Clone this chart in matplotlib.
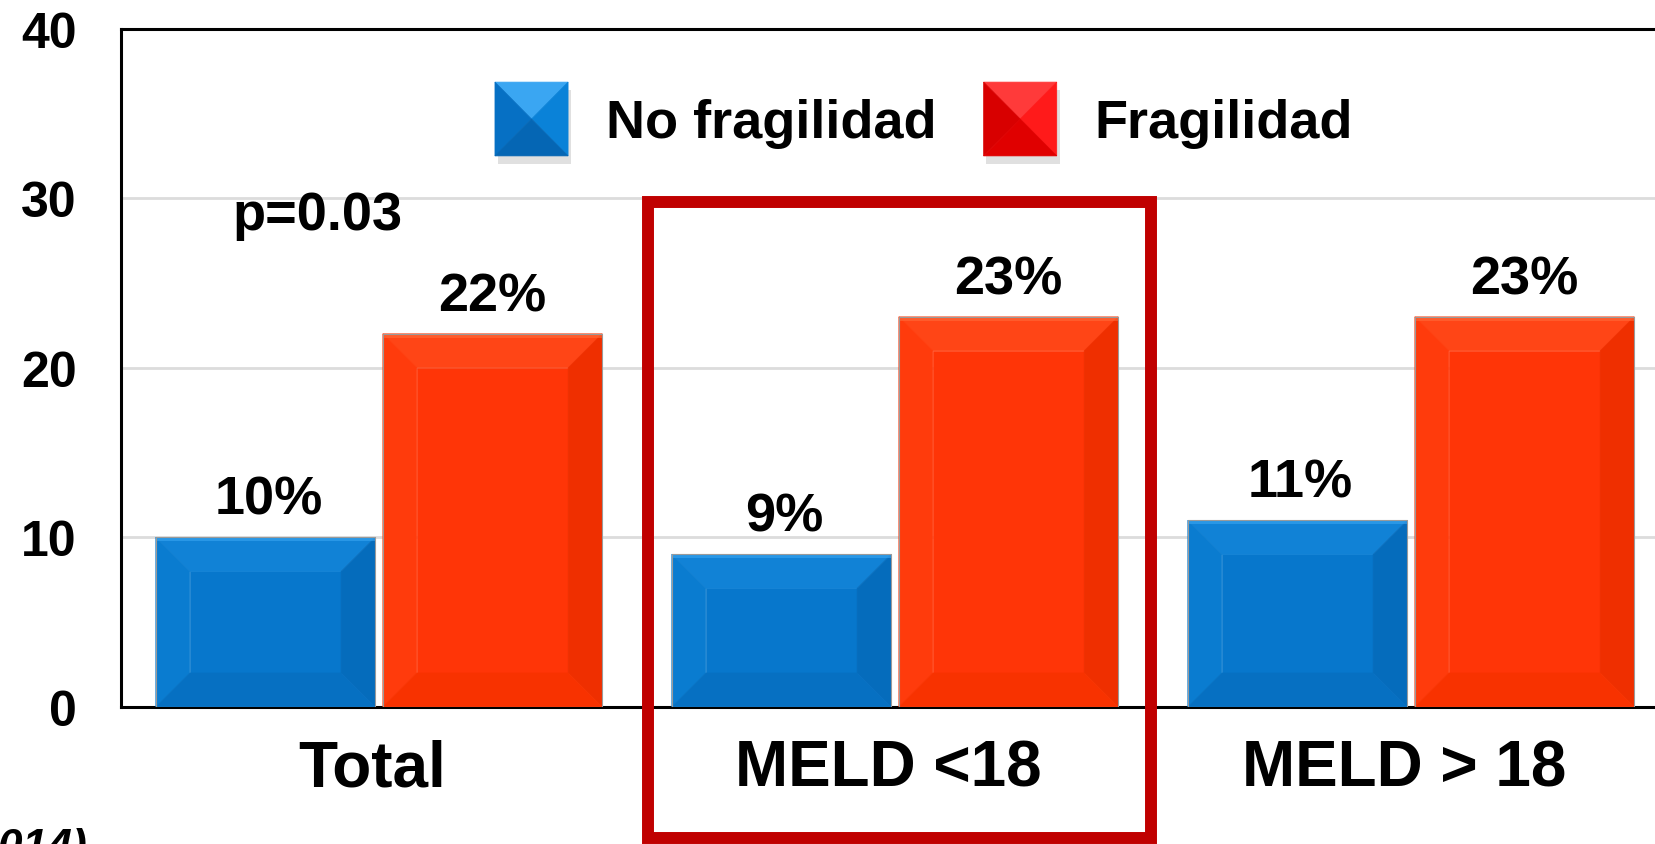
import numpy as np
import matplotlib
matplotlib.use("Agg")
import matplotlib.pyplot as plt
from matplotlib.patches import Polygon, Rectangle
from matplotlib.legend_handler import HandlerBase
from matplotlib.transforms import ScaledTranslation

plt.rcParams['font.family'] = ['Liberation Sans', 'DejaVu Sans']
plt.rcParams['font.weight'] = 'bold'

categories = ['Total', 'MELD <18', 'MELD > 18']
no_fragilidad = [10, 9, 11]
fragilidad = [22, 23, 23]
series_names = ['No fragilidad', 'Fragilidad']
y_ticks = [0, 10, 20, 30, 40]

# face, top, left, right, bottom shades for the bevelled bars, then the top highlight
blue_shades = ['#0777cc', '#1182d6', '#0a7cd0', '#056cbc', '#0670c2', '#3aa6f2']
red_shades = ['#ff3507', '#ff4516', '#ff3b0c', '#ef2f00', '#f83200', '#ff6a3a']
legend_blue = ['#0a78cf', '#3aa6f2', '#0670c4', '#0a82d8', '#0566b4']
legend_red = ['#ff0a0a', '#ff3a3a', '#d80000', '#ff1a1a', '#e00000']


def bevel_polys(x0, y0, w, h, dx, dy):
    x1, y1 = x0 + w, y0 + h
    dx = min(dx, w / 2)
    dy = min(dy, h / 2)
    ix0, ix1, iy0, iy1 = x0 + dx, x1 - dx, y0 + dy, y1 - dy
    face = [(ix0, iy0), (ix1, iy0), (ix1, iy1), (ix0, iy1)]
    top = [(x0, y1), (x1, y1), (ix1, iy1), (ix0, iy1)]
    left = [(x0, y0), (ix0, iy0), (ix0, iy1), (x0, y1)]
    right = [(x1, y0), (x1, y1), (ix1, iy1), (ix1, iy0)]
    bottom = [(x0, y0), (x1, y0), (ix1, iy0), (ix0, iy0)]
    return [face, top, left, right, bottom]


def draw_bevel_bar(ax, x, height, width, shades, depth_px=34):
    # bevel depth is given in pixels, so convert it to data units
    px = ax.transData.transform([(0, 0), (1, 1)])
    ux = abs(px[1, 0] - px[0, 0])
    uy = abs(px[1, 1] - px[0, 1])
    polys = bevel_polys(x - width / 2, 0, width, height, depth_px / ux, depth_px / uy)
    for pts, c in zip(polys, shades[:5]):
        ax.add_patch(Polygon(pts, closed=True, facecolor=c, edgecolor=c,
                             linewidth=0.5, zorder=3))
    ax.add_patch(Rectangle((x - width / 2, height - 4 / uy), width, 4 / uy,
                           facecolor=shades[5], edgecolor='none', alpha=0.6, zorder=3))
    ax.add_patch(Rectangle((x - width / 2, 0), width, height, facecolor='none',
                           edgecolor='#9a9a9a', linewidth=0.8, zorder=4))


class BevelHandler(HandlerBase):
    def __init__(self, shades):
        super().__init__()
        self.shades = shades

    def create_artists(self, legend, orig_handle, xdescent, ydescent, width,
                       height, fontsize, trans):
        x0, y0 = -xdescent, -ydescent
        artists = [Rectangle((x0 + 2, y0 - 6), width, height, facecolor='#bbbbbb',
                             edgecolor='none', alpha=0.45, transform=trans)]
        polys = bevel_polys(x0, y0, width, height, width / 2, height / 2)
        for pts, c in zip(polys, self.shades):
            artists.append(Polygon(pts, closed=True, facecolor=c, edgecolor=c,
                                   linewidth=0.5, transform=trans))
        return artists


fig = plt.figure(figsize=(16.55, 8.45), dpi=100)
ax = fig.add_axes([121 / 1655, 137 / 845, 1548 / 1655, 678.5 / 845])

x = np.arange(len(categories))
bar_w = 0.425
offset = 0.22

ax.set_xlim(-0.5, len(categories) - 0.5)
ax.set_ylim(0, 40)

for xi, v in zip(x - offset, no_fragilidad):
    draw_bevel_bar(ax, xi, v, bar_w, blue_shades)
    ax.annotate(f'{v}%', (xi, v), xytext=(2, 17), textcoords='offset points',
                ha='center', va='baseline', fontsize=39, fontweight='bold')
for xi, v in zip(x + offset, fragilidad):
    draw_bevel_bar(ax, xi, v, bar_w, red_shades)
    ax.annotate(f'{v}%', (xi, v), xytext=(0, 17), textcoords='offset points',
                ha='center', va='baseline', fontsize=39, fontweight='bold')

ax.text(-0.120, 28.2, 'p=0.03', ha='center', va='baseline', fontsize=39,
        fontweight='bold')

ax.set_yticks(y_ticks)
ax.set_yticklabels([str(t) for t in y_ticks], fontsize=36, fontweight='bold')
ax.set_xticks(x)
ax.set_xticklabels(categories, fontsize=46, fontweight='bold')
ax.tick_params(axis='y', length=0, pad=32)
ax.tick_params(axis='x', length=0, pad=23)
shift = ScaledTranslation(-5 / 72, 0, fig.dpi_scale_trans)
for lbl in ax.get_xticklabels():
    lbl.set_transform(lbl.get_transform() + shift)

for t in y_ticks[1:-1]:
    ax.axhline(t, color='#dcdcdc', linewidth=2, zorder=1)

for side in ['left', 'bottom', 'top']:
    ax.spines[side].set_linewidth(2.2)
    ax.spines[side].set_color('black')
ax.spines['right'].set_visible(False)

handles = [Rectangle((0, 0), 1, 1), Rectangle((0, 0), 1, 1)]
ax.legend(handles, series_names, ncol=2, frameon=False, loc='center',
          bbox_to_anchor=(924 / 1655, 1 - 120 / 845), bbox_transform=fig.transFigure,
          prop={'size': 39, 'weight': 'bold'}, handlelength=1.35, handleheight=1.72,
          handletextpad=0.70, columnspacing=0.87, borderpad=0,
          handler_map={handles[0]: BevelHandler(legend_blue),
                       handles[1]: BevelHandler(legend_red)})

# highlight box around the MELD <18 group
fig.add_artist(Rectangle((648 / 1655, 6 / 845), 503 / 1655, 636 / 845,
                         transform=fig.transFigure, facecolor='none',
                         edgecolor='#c00000', linewidth=8.6, joinstyle='miter',
                         clip_on=False, zorder=10))

fig.text(88 / 1655, 1 - 828 / 845, '2014)', ha='right', va='top', fontsize=32,
         fontweight='bold', fontstyle='italic')

fig.savefig('out.png', dpi=100)
